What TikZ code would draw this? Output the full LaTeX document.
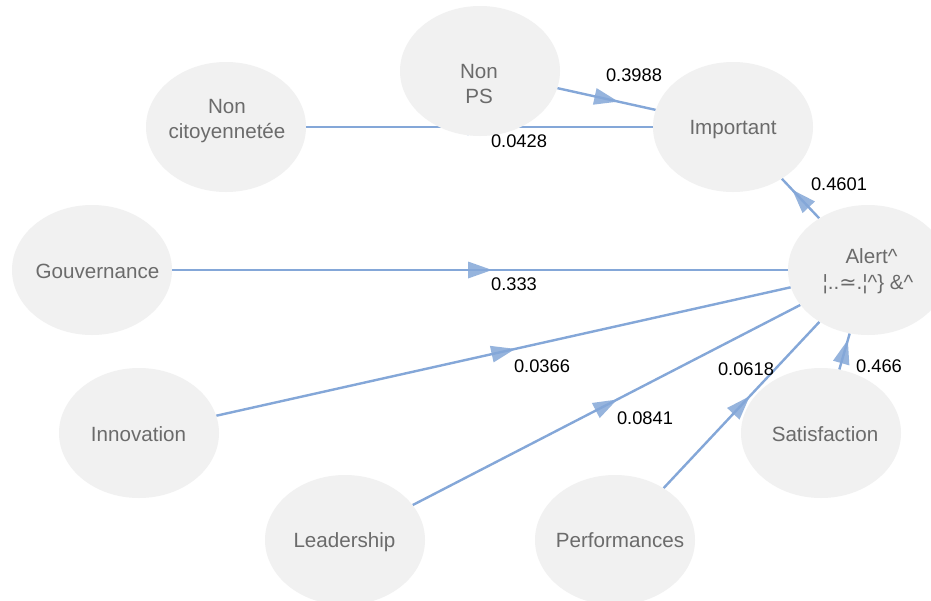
\documentclass[tikz,border=0pt]{standalone}
\usepackage{fontspec}
\setmainfont{Liberation Sans}
\newfontfamily\symfont{DejaVu Sans}
\usetikzlibrary{shapes.geometric,decorations.markings}
\pgfdeclarelayer{bglayer}
\pgfdeclarelayer{edgelayer}
\pgfsetlayers{bglayer,edgelayer,main}
\definecolor{nodefill}{HTML}{F1F1F1}
\definecolor{nodetext}{HTML}{6B6B6B}
\definecolor{edgecol}{HTML}{84A7D8}
\tikzset{
  latent/.style={ellipse, fill=nodefill, minimum width=160pt, minimum height=130pt,
    inner sep=0pt},
  ntext/.style={text=nodetext, font=\fontsize{20.6}{25.5}\selectfont, align=center, inner sep=0pt},
  edgeline/.style={draw=edgecol, line width=2.4pt, postaction={decorate},
    decoration={markings, mark=at position 0.5 with {\fill[edgecol, fill opacity=0.85]
      (-12pt,-8.5pt) -- (12pt,0pt) -- (-12pt,8.5pt) -- cycle;}}},
  coef/.style={text=black, font=\fontsize{18.3}{22}\selectfont, inner sep=0pt},
}
\begin{document}
\begin{tikzpicture}[x=1pt,y=-1pt]
\begin{pgfonlayer}{bglayer}
\fill[white] (0,0) rectangle (931,600);
\end{pgfonlayer}
\clip (0,0) rectangle (931,600);
% ellipses
\node[latent] (nps)  at (480,71)  {};
\node[latent] (ncit) at (226,127) {};
\node[latent] (imp)  at (733,127) {};
\node[latent] (gov)  at (92,270)  {};
\node[latent] (alert) at (868,270) {};
\node[latent] (inn)  at (139,433) {};
\node[latent] (sat)  at (821,433) {};
\node[latent] (lead) at (345,540) {};
\node[latent] (perf) at (615,540) {};
% texts
\node[ntext] (npst) at (479,84) {Non\\PS};
\node[ntext] (ncitt) at (227,121) {Non\\citoyennetée};
\node[ntext, anchor=base] (impt) at (733,134.4) {Important};
\node[ntext, anchor=base] (govt) at (97.5,278.4) {Gouvernance};
\node[ntext] (alertt) at (868,271) {\hspace*{7pt}Alert\textasciicircum\\¦..{\symfont ≃}.¦\textasciicircum\} \&\textasciicircum};
\node[ntext, anchor=base] (innt) at (138.5,441.4) {Innovation};
\node[ntext, anchor=base] (satt) at (825,441.4) {Satisfaction};
\node[ntext, anchor=base] (leadt) at (344.5,547.4) {Leadership};
\node[ntext, anchor=base] (perft) at (620,547.4) {Performances};
% edges
\begin{pgfonlayer}{edgelayer}
\draw[edgeline] (nps) -- (imp);
\draw[edgeline] (ncit) -- (imp);
\draw[edgeline] (alert) -- (imp);
\draw[edgeline] (gov) -- (alert);
\draw[edgeline] (inn) -- (alert);
\draw[edgeline] (lead) -- (alert);
\draw[edgeline] (perf) -- (alert);
\draw[edgeline] (sat) -- (alert);
\end{pgfonlayer}
% coefficients
\node[coef] (c1) at (634,75)  {0.3988};
\node[coef] (c2) at (519,141) {0.0428};
\node[coef] (c3) at (839,184) {0.4601};
\node[coef] (c4) at (514,284) {0.333};
\node[coef] (c5) at (542,366) {0.0366};
\node[coef] (c6) at (645,418) {0.0841};
\node[coef] (c7) at (746,369) {0.0618};
\node[coef] (c8) at (879,366) {0.466};
\end{tikzpicture}
\end{document}
